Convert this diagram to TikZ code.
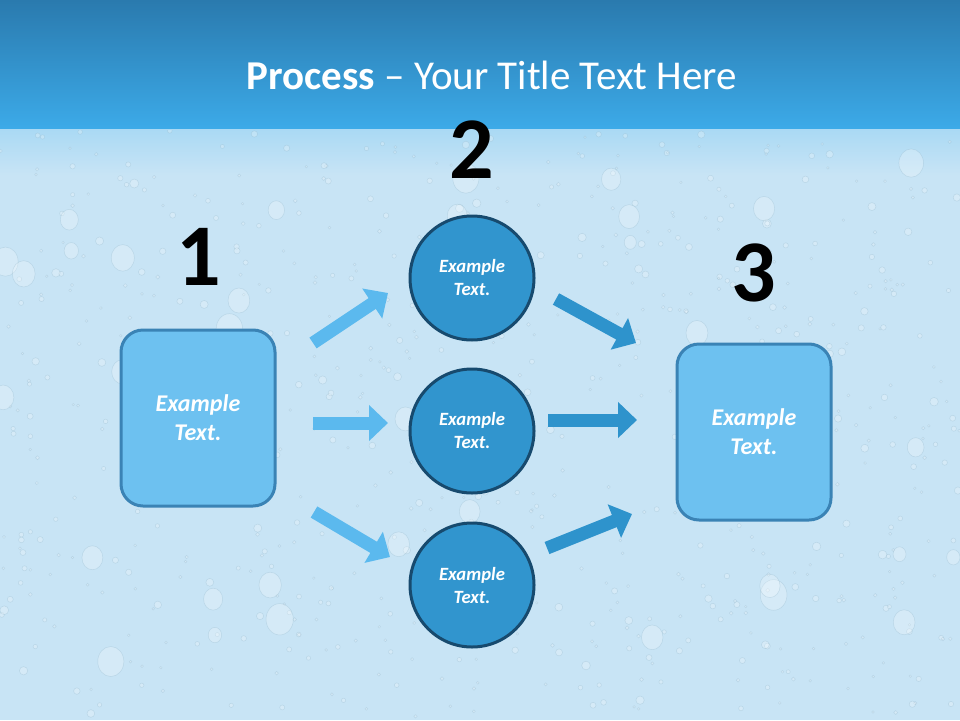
\documentclass[tikz,border=0pt]{standalone}
\usepackage{fontspec}
\setmainfont{Carlito}
\usetikzlibrary{arrows.meta,shapes.geometric}
\definecolor{bandtop}{HTML}{2A7AAE}
\definecolor{bandbot}{HTML}{3CAAE8}
\definecolor{waterA}{HTML}{A9D9F4}
\definecolor{waterB}{HTML}{C8E4F5}
\definecolor{boxfill}{HTML}{6DC1F0}
\definecolor{boxline}{HTML}{3A83B5}
\definecolor{circfill}{HTML}{3195CE}
\definecolor{circline}{HTML}{174A6E}
\definecolor{arrowlight}{HTML}{5BB9EE}
\definecolor{arrowdark}{HTML}{2E93CC}
\tikzset{
  sqbox/.style={draw=boxline, line width=3pt, fill=boxfill, rounded corners=22pt,
    minimum width=154pt, minimum height=176pt, inner sep=0pt,
    text=white, font=\fontsize{24}{29}\selectfont\bfseries\itshape, align=center},
  circbox/.style={circle, draw=circline, line width=3pt, fill=circfill,
    minimum size=124pt, inner sep=0pt,
    text=white, font=\fontsize{18.7}{23}\selectfont\bfseries\itshape, align=center},
  numlabel/.style={font=\fontsize{88}{88}\selectfont\bfseries, text=black, inner sep=0pt},
  blockarrow/.style={line width=13pt, -{Triangle[width=35pt,length=19pt]}},
  lightarrow/.style={blockarrow, draw=arrowlight},
  darkarrow/.style={blockarrow, draw=arrowdark},
  drop/.style={fill=white, fill opacity=0.25, draw=black!20!waterA, draw opacity=0.3, line width=0.5pt}
}
\begin{document}
\begin{tikzpicture}[x=1pt,y=-1pt]
\useasboundingbox (0,0) rectangle (960,720);
% background
\fill[waterB] (0,128) rectangle (960,720);
\shade[top color=waterA, bottom color=waterB] (0,128) rectangle (960,175);
\shade[top color=bandtop, bottom color=bandbot] (0,0) rectangle (960,128);
% water drop texture
\pgfmathsetseed{7311}
\begin{scope}
\clip (0,130) rectangle (960,720);
\foreach \i in {1,...,700}{
  \pgfmathsetmacro{\dx}{960*rnd}
  \pgfmathsetmacro{\dy}{130+590*rnd}
  \pgfmathsetmacro{\dr}{1.2+3.5*rnd*rnd}
  \path[drop] (\dx,\dy) circle[radius=\dr];
}
\foreach \i in {1,...,40}{
  \pgfmathsetmacro{\dx}{960*rnd}
  \pgfmathsetmacro{\dy}{130+590*rnd}
  \pgfmathsetmacro{\dr}{6+8*rnd}
  \path[drop] (\dx,\dy) ellipse[x radius=\dr, y radius=1.15*\dr];
}
\end{scope}
% title
\node (title) at (492,75) {\fontsize{41}{46}\selectfont\color{white}\textbf{Process} – Your Title Text Here};
% numbers
\node[numlabel] (n1) at (199,257) {1};
\node[numlabel] (n2) at (472,150) {2};
\node[numlabel] (n3) at (754,273) {3};
% boxes
\node[sqbox] (b1) at (198,418) {Example\\Text.};
\node[sqbox] (b3) at (754,432) {Example\\Text.};
% circles
\node[circbox] (c1) at (472,278) {Example\\Text.};
\node[circbox] (c2) at (472,431) {Example\\Text.};
\node[circbox] (c3) at (472,585) {Example\\Text.};
% arrow end points
\coordinate (a1s) at (313,343); \coordinate (a1e) at (388,293);
\coordinate (a2s) at (313,423); \coordinate (a2e) at (388,423);
\coordinate (a3s) at (314,512); \coordinate (a3e) at (390,557);
\coordinate (d1s) at (556,299); \coordinate (d1e) at (636,343);
\coordinate (d2s) at (548,420); \coordinate (d2e) at (637,420);
\coordinate (d3s) at (547,548); \coordinate (d3e) at (632,514);
\draw[lightarrow] (a1s) -- (a1e);
\draw[lightarrow] (a2s) -- (a2e);
\draw[lightarrow] (a3s) -- (a3e);
\draw[darkarrow] (d1s) -- (d1e);
\draw[darkarrow] (d2s) -- (d2e);
\draw[darkarrow] (d3s) -- (d3e);
\end{tikzpicture}
\end{document}
